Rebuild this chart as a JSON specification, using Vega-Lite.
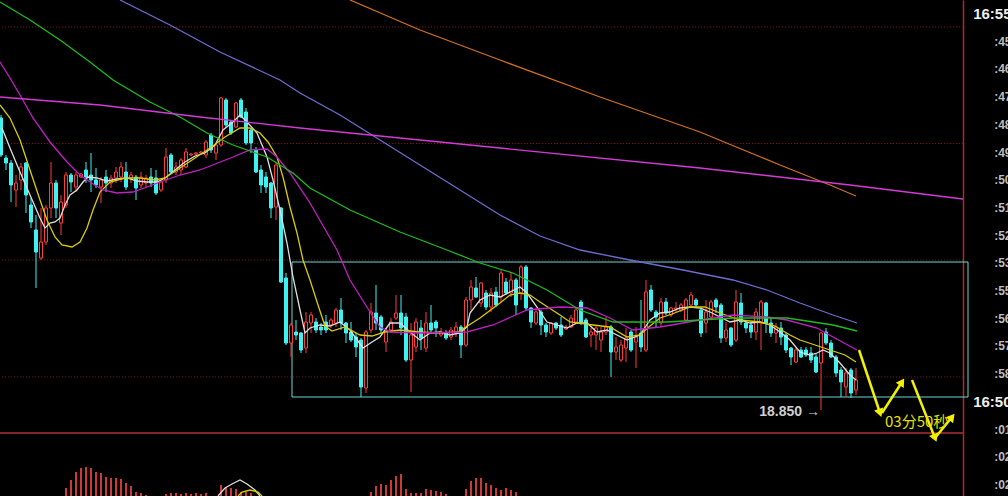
{
"$schema":"https://vega.github.io/schema/vega-lite/v6.json",
"width":963,"height":496,
"autosize":{"type":"none"},
"padding":{"left":0,"top":0,"right":45,"bottom":0},
"background":"#000000",
"config":{"view":{"stroke":null}},
"resolve":{"axis":{"y":"independent","x":"independent"}},
"datasets":{
"dots":[{"p":19.616},{"p":19.383},{"p":19.150},{"p":18.916}],
"solid":[{"p":18.804}],
"box":[{"t1":58.2,"t2":193.4,"p1":19.146,"p2":18.876}],
"macd":[{"t":13,"p":18.694},{"t":14,"p":18.710},{"t":15,"p":18.726},{"t":16,"p":18.734},{"t":17,"p":18.736},{"t":18,"p":18.734},{"t":19,"p":18.726},{"t":20,"p":18.724},{"t":21,"p":18.716},{"t":22,"p":18.714},{"t":23,"p":18.714},{"t":24,"p":18.712},{"t":25,"p":18.704},{"t":26,"p":18.698},{"t":27,"p":18.686},{"t":28,"p":18.684},{"t":29,"p":18.680},
{"t":33,"p":18.682},{"t":34,"p":18.684},{"t":35,"p":18.684},{"t":36,"p":18.682},{"t":37,"p":18.684},{"t":38,"p":18.682},{"t":39,"p":18.684},{"t":40,"p":18.682},{"t":41,"p":18.684},
{"t":44,"p":18.700},{"t":45,"p":18.696},{"t":46,"p":18.694},{"t":47,"p":18.692},{"t":48,"p":18.686},{"t":49,"p":18.686},{"t":50,"p":18.684},
{"t":74,"p":18.686},{"t":75,"p":18.698},{"t":76,"p":18.702},{"t":77,"p":18.700},{"t":78,"p":18.710},{"t":79,"p":18.718},{"t":80,"p":18.722},{"t":81,"p":18.692},{"t":82,"p":18.684},{"t":83,"p":18.684},{"t":84,"p":18.684},{"t":85,"p":18.692},{"t":86,"p":18.690},{"t":87,"p":18.688},{"t":88,"p":18.686},{"t":89,"p":18.682},{"t":93,"p":18.692},{"t":94,"p":18.708},{"t":95,"p":18.714},{"t":96,"p":18.714},{"t":97,"p":18.704},{"t":98,"p":18.700},{"t":99,"p":18.694},{"t":100,"p":18.690},{"t":101,"p":18.694},{"t":102,"p":18.690},{"t":103,"p":18.686}],
"candles":[
{"t":0,"o":19.434,"h":19.440,"l":19.356,"c":19.360},
{"t":1,"o":19.354,"h":19.360,"l":19.330,"c":19.344},
{"t":2,"o":19.344,"h":19.350,"l":19.266,"c":19.300},
{"t":3,"o":19.290,"h":19.320,"l":19.256,"c":19.304},
{"t":4,"o":19.310,"h":19.344,"l":19.290,"c":19.336},
{"t":5,"o":19.344,"h":19.346,"l":19.244,"c":19.280},
{"t":6,"o":19.260,"h":19.274,"l":19.214,"c":19.226},
{"t":7,"o":19.210,"h":19.240,"l":19.094,"c":19.166},
{"t":8,"o":19.154,"h":19.254,"l":19.150,"c":19.186},
{"t":9,"o":19.186,"h":19.260,"l":19.180,"c":19.254},
{"t":10,"o":19.254,"h":19.346,"l":19.234,"c":19.304},
{"t":11,"o":19.304,"h":19.310,"l":19.234,"c":19.254},
{"t":12,"o":19.224,"h":19.280,"l":19.200,"c":19.266},
{"t":13,"o":19.260,"h":19.326,"l":19.254,"c":19.320},
{"t":14,"o":19.320,"h":19.324,"l":19.286,"c":19.306},
{"t":15,"o":19.296,"h":19.326,"l":19.286,"c":19.320},
{"t":16,"o":19.316,"h":19.324,"l":19.314,"c":19.322},
{"t":17,"o":19.330,"h":19.346,"l":19.304,"c":19.316},
{"t":18,"o":19.320,"h":19.364,"l":19.286,"c":19.310},
{"t":19,"o":19.310,"h":19.334,"l":19.294,"c":19.300},
{"t":20,"o":19.296,"h":19.316,"l":19.264,"c":19.310},
{"t":21,"o":19.316,"h":19.330,"l":19.286,"c":19.304},
{"t":22,"o":19.304,"h":19.320,"l":19.294,"c":19.314},
{"t":23,"o":19.314,"h":19.336,"l":19.304,"c":19.326},
{"t":24,"o":19.316,"h":19.346,"l":19.306,"c":19.336},
{"t":25,"o":19.326,"h":19.346,"l":19.290,"c":19.296},
{"t":26,"o":19.314,"h":19.326,"l":19.304,"c":19.320},
{"t":27,"o":19.316,"h":19.320,"l":19.270,"c":19.294},
{"t":28,"o":19.300,"h":19.326,"l":19.294,"c":19.316},
{"t":29,"o":19.304,"h":19.320,"l":19.294,"c":19.314},
{"t":30,"o":19.316,"h":19.334,"l":19.296,"c":19.304},
{"t":31,"o":19.314,"h":19.330,"l":19.280,"c":19.284},
{"t":32,"o":19.290,"h":19.310,"l":19.286,"c":19.306},
{"t":33,"o":19.310,"h":19.374,"l":19.304,"c":19.356},
{"t":34,"o":19.360,"h":19.364,"l":19.324,"c":19.326},
{"t":35,"o":19.326,"h":19.346,"l":19.320,"c":19.336},
{"t":36,"o":19.330,"h":19.354,"l":19.320,"c":19.350},
{"t":37,"o":19.336,"h":19.374,"l":19.334,"c":19.366},
{"t":38,"o":19.360,"h":19.364,"l":19.358,"c":19.362},
{"t":39,"o":19.362,"h":19.366,"l":19.360,"c":19.364},
{"t":40,"o":19.364,"h":19.368,"l":19.362,"c":19.366},
{"t":41,"o":19.360,"h":19.390,"l":19.354,"c":19.386},
{"t":42,"o":19.400,"h":19.404,"l":19.364,"c":19.370},
{"t":43,"o":19.364,"h":19.384,"l":19.350,"c":19.380},
{"t":44,"o":19.380,"h":19.476,"l":19.376,"c":19.474},
{"t":45,"o":19.470,"h":19.474,"l":19.416,"c":19.420},
{"t":46,"o":19.426,"h":19.430,"l":19.400,"c":19.404},
{"t":47,"o":19.416,"h":19.466,"l":19.414,"c":19.464},
{"t":48,"o":19.470,"h":19.474,"l":19.434,"c":19.436},
{"t":49,"o":19.446,"h":19.454,"l":19.380,"c":19.384},
{"t":50,"o":19.410,"h":19.414,"l":19.364,"c":19.384},
{"t":51,"o":19.370,"h":19.376,"l":19.324,"c":19.326},
{"t":52,"o":19.330,"h":19.340,"l":19.284,"c":19.300},
{"t":53,"o":19.316,"h":19.326,"l":19.284,"c":19.296},
{"t":54,"o":19.304,"h":19.306,"l":19.234,"c":19.254},
{"t":55,"o":19.256,"h":19.346,"l":19.230,"c":19.340},
{"t":56,"o":19.254,"h":19.256,"l":19.104,"c":19.106},
{"t":57,"o":19.114,"h":19.124,"l":18.980,"c":18.984},
{"t":58,"o":18.984,"h":19.024,"l":18.956,"c":19.020},
{"t":59,"o":19.006,"h":19.030,"l":18.990,"c":19.000},
{"t":60,"o":19.004,"h":19.006,"l":18.964,"c":18.970},
{"t":61,"o":18.974,"h":19.046,"l":18.964,"c":19.026},
{"t":62,"o":19.024,"h":19.046,"l":19.004,"c":19.040},
{"t":63,"o":19.026,"h":19.034,"l":19.004,"c":19.010},
{"t":64,"o":19.016,"h":19.024,"l":19.000,"c":19.010},
{"t":65,"o":19.026,"h":19.040,"l":19.004,"c":19.010},
{"t":66,"o":19.020,"h":19.034,"l":19.014,"c":19.030},
{"t":67,"o":19.024,"h":19.054,"l":19.016,"c":19.050},
{"t":68,"o":19.050,"h":19.074,"l":19.010,"c":19.024},
{"t":69,"o":19.024,"h":19.026,"l":18.984,"c":19.004},
{"t":70,"o":19.006,"h":19.026,"l":18.986,"c":18.990},
{"t":71,"o":18.996,"h":19.004,"l":18.956,"c":18.976},
{"t":72,"o":18.990,"h":18.994,"l":18.876,"c":18.896},
{"t":73,"o":18.894,"h":19.010,"l":18.884,"c":19.006},
{"t":74,"o":19.010,"h":19.064,"l":19.004,"c":19.046},
{"t":75,"o":19.044,"h":19.100,"l":19.010,"c":19.024},
{"t":76,"o":19.036,"h":19.040,"l":19.004,"c":19.010},
{"t":77,"o":18.986,"h":19.014,"l":18.966,"c":19.010},
{"t":78,"o":19.010,"h":19.034,"l":19.004,"c":19.026},
{"t":79,"o":19.034,"h":19.080,"l":19.030,"c":19.044},
{"t":80,"o":19.044,"h":19.080,"l":19.000,"c":19.014},
{"t":81,"o":19.036,"h":19.044,"l":18.946,"c":18.950},
{"t":82,"o":18.950,"h":19.024,"l":18.886,"c":19.000},
{"t":83,"o":18.976,"h":19.034,"l":18.966,"c":19.026},
{"t":84,"o":19.014,"h":19.030,"l":18.970,"c":18.994},
{"t":85,"o":18.974,"h":19.046,"l":18.966,"c":19.024},
{"t":86,"o":19.024,"h":19.060,"l":19.006,"c":19.010},
{"t":87,"o":19.026,"h":19.030,"l":18.996,"c":19.014},
{"t":88,"o":19.000,"h":19.014,"l":18.996,"c":19.006},
{"t":89,"o":19.004,"h":19.010,"l":18.990,"c":18.994},
{"t":90,"o":18.996,"h":19.016,"l":18.990,"c":19.010},
{"t":91,"o":19.004,"h":19.026,"l":18.996,"c":19.016},
{"t":92,"o":19.016,"h":19.020,"l":18.954,"c":18.980},
{"t":93,"o":18.980,"h":19.076,"l":18.976,"c":19.070},
{"t":94,"o":19.070,"h":19.110,"l":19.050,"c":19.096},
{"t":95,"o":19.094,"h":19.116,"l":19.074,"c":19.076},
{"t":96,"o":19.064,"h":19.106,"l":19.056,"c":19.104},
{"t":97,"o":19.084,"h":19.090,"l":19.050,"c":19.056},
{"t":98,"o":19.056,"h":19.094,"l":19.046,"c":19.084},
{"t":99,"o":19.086,"h":19.096,"l":19.056,"c":19.060},
{"t":100,"o":19.076,"h":19.130,"l":19.066,"c":19.124},
{"t":101,"o":19.106,"h":19.114,"l":19.080,"c":19.084},
{"t":102,"o":19.084,"h":19.126,"l":19.076,"c":19.110},
{"t":103,"o":19.110,"h":19.114,"l":19.040,"c":19.060},
{"t":104,"o":19.084,"h":19.140,"l":19.070,"c":19.136},
{"t":105,"o":19.136,"h":19.140,"l":19.050,"c":19.054},
{"t":106,"o":19.054,"h":19.056,"l":19.014,"c":19.026},
{"t":107,"o":19.024,"h":19.054,"l":19.020,"c":19.046},
{"t":108,"o":19.046,"h":19.050,"l":19.000,"c":19.020},
{"t":109,"o":19.020,"h":19.024,"l":18.996,"c":19.006},
{"t":110,"o":19.004,"h":19.026,"l":19.000,"c":19.024},
{"t":111,"o":19.024,"h":19.026,"l":19.010,"c":19.014},
{"t":112,"o":19.020,"h":19.036,"l":18.996,"c":19.000},
{"t":113,"o":19.012,"h":19.020,"l":19.010,"c":19.016},
{"t":114,"o":19.016,"h":19.040,"l":19.014,"c":19.034},
{"t":115,"o":19.026,"h":19.056,"l":19.024,"c":19.050},
{"t":116,"o":19.066,"h":19.070,"l":19.020,"c":19.026},
{"t":117,"o":19.030,"h":19.034,"l":18.994,"c":18.996},
{"t":118,"o":19.000,"h":19.014,"l":18.976,"c":19.006},
{"t":119,"o":19.000,"h":19.020,"l":18.970,"c":19.014},
{"t":120,"o":18.990,"h":19.016,"l":18.966,"c":19.006},
{"t":121,"o":19.006,"h":19.036,"l":19.000,"c":19.016},
{"t":122,"o":19.016,"h":19.020,"l":18.916,"c":18.966},
{"t":123,"o":18.966,"h":18.996,"l":18.950,"c":18.976},
{"t":124,"o":18.950,"h":18.990,"l":18.946,"c":18.980},
{"t":125,"o":18.974,"h":19.014,"l":18.946,"c":18.994},
{"t":126,"o":19.006,"h":19.010,"l":18.966,"c":18.970},
{"t":127,"o":18.986,"h":19.016,"l":18.934,"c":18.996},
{"t":128,"o":19.004,"h":19.070,"l":18.966,"c":18.976},
{"t":129,"o":18.970,"h":19.110,"l":18.966,"c":19.086},
{"t":130,"o":19.090,"h":19.100,"l":19.046,"c":19.050},
{"t":131,"o":19.046,"h":19.050,"l":19.016,"c":19.036},
{"t":132,"o":19.024,"h":19.074,"l":19.016,"c":19.066},
{"t":133,"o":19.066,"h":19.074,"l":19.040,"c":19.044},
{"t":134,"o":19.040,"h":19.056,"l":19.036,"c":19.054},
{"t":135,"o":19.052,"h":19.066,"l":19.046,"c":19.054},
{"t":136,"o":19.050,"h":19.064,"l":19.046,"c":19.060},
{"t":137,"o":19.030,"h":19.074,"l":19.026,"c":19.070},
{"t":138,"o":19.060,"h":19.086,"l":19.054,"c":19.080},
{"t":139,"o":19.070,"h":19.074,"l":19.054,"c":19.060},
{"t":140,"o":19.050,"h":19.054,"l":18.996,"c":19.004},
{"t":141,"o":19.024,"h":19.070,"l":19.004,"c":19.046},
{"t":142,"o":19.036,"h":19.070,"l":19.034,"c":19.066},
{"t":143,"o":19.070,"h":19.074,"l":19.044,"c":19.056},
{"t":144,"o":19.060,"h":19.064,"l":18.984,"c":18.994},
{"t":145,"o":18.994,"h":19.026,"l":18.986,"c":19.010},
{"t":146,"o":19.014,"h":19.016,"l":18.976,"c":18.980},
{"t":147,"o":18.990,"h":19.090,"l":18.986,"c":19.066},
{"t":148,"o":19.064,"h":19.084,"l":19.020,"c":19.026},
{"t":149,"o":19.024,"h":19.030,"l":19.004,"c":19.014},
{"t":150,"o":19.020,"h":19.026,"l":18.994,"c":19.006},
{"t":151,"o":19.006,"h":19.054,"l":18.990,"c":19.046},
{"t":152,"o":19.024,"h":19.070,"l":18.970,"c":19.066},
{"t":153,"o":19.064,"h":19.066,"l":19.004,"c":19.024},
{"t":154,"o":19.024,"h":19.034,"l":18.996,"c":19.004},
{"t":155,"o":19.004,"h":19.024,"l":18.984,"c":19.016},
{"t":156,"o":19.014,"h":19.026,"l":18.980,"c":18.996},
{"t":157,"o":19.000,"h":19.004,"l":18.964,"c":18.970},
{"t":158,"o":18.974,"h":18.976,"l":18.940,"c":18.956},
{"t":159,"o":18.946,"h":18.974,"l":18.944,"c":18.970},
{"t":160,"o":18.970,"h":18.976,"l":18.954,"c":18.956},
{"t":161,"o":18.970,"h":18.976,"l":18.956,"c":18.960},
{"t":162,"o":18.964,"h":18.976,"l":18.944,"c":18.950},
{"t":163,"o":18.956,"h":18.964,"l":18.924,"c":18.926},
{"t":164,"o":18.944,"h":19.006,"l":18.850,"c":19.004},
{"t":165,"o":19.006,"h":19.014,"l":18.980,"c":18.984},
{"t":166,"o":18.984,"h":18.990,"l":18.954,"c":18.956},
{"t":167,"o":18.956,"h":18.960,"l":18.916,"c":18.924},
{"t":168,"o":18.930,"h":18.936,"l":18.876,"c":18.906},
{"t":169,"o":18.896,"h":18.934,"l":18.876,"c":18.924},
{"t":170,"o":18.930,"h":18.934,"l":18.874,"c":18.884},
{"t":171,"o":18.890,"h":18.934,"l":18.880,"c":18.910}
],
"ma":[
{"s":"w","t":0.2,"p":19.414},{"s":"w","t":1.8,"p":19.374},{"s":"w","t":3.8,"p":19.326},{"s":"w","t":5.8,"p":19.280},{"s":"w","t":7.8,"p":19.234},{"s":"w","t":8.8,"p":19.214},{"s":"w","t":9.8,"p":19.224},{"s":"w","t":10.8,"p":19.226},{"s":"w","t":11.8,"p":19.234},{"s":"w","t":12.8,"p":19.260},{"s":"w","t":13.8,"p":19.280},{"s":"w","t":15.2,"p":19.290},{"s":"w","t":16.4,"p":19.306},{"s":"w","t":17.4,"p":19.316},{"s":"w","t":19.2,"p":19.314},{"s":"w","t":21.2,"p":19.308},{"s":"w","t":23.2,"p":19.312},{"s":"w","t":25.2,"p":19.314},{"s":"w","t":27.2,"p":19.308},{"s":"w","t":29.2,"p":19.306},{"s":"w","t":31.2,"p":19.306},{"s":"w","t":32.8,"p":19.314},{"s":"w","t":34.8,"p":19.330},{"s":"w","t":36.8,"p":19.346},{"s":"w","t":38.8,"p":19.358},{"s":"w","t":40.8,"p":19.364},{"s":"w","t":42.8,"p":19.380},{"s":"w","t":44.4,"p":19.410},{"s":"w","t":46.4,"p":19.426},{"s":"w","t":47.8,"p":19.440},{"s":"w","t":49.2,"p":19.426},{"s":"w","t":51.2,"p":19.404},{"s":"w","t":53.2,"p":19.356},{"s":"w","t":54.4,"p":19.310},{"s":"w","t":55.8,"p":19.250},{"s":"w","t":57.2,"p":19.184},{"s":"w","t":58.4,"p":19.116},{"s":"w","t":59.8,"p":19.050},{"s":"w","t":60.8,"p":19.004},{"s":"w","t":61.8,"p":19.014},{"s":"w","t":63.8,"p":19.020},{"s":"w","t":65.8,"p":19.018},{"s":"w","t":67.8,"p":19.026},{"s":"w","t":69.8,"p":19.010},{"s":"w","t":72.4,"p":18.974},{"s":"w","t":74.2,"p":18.986},{"s":"w","t":75.8,"p":18.996},{"s":"w","t":77.8,"p":19.024},{"s":"w","t":79.8,"p":19.024},{"s":"w","t":81.8,"p":19.006},{"s":"w","t":83.8,"p":18.990},{"s":"w","t":85.8,"p":19.004},{"s":"w","t":87.8,"p":19.006},{"s":"w","t":89.8,"p":19.000},{"s":"w","t":91.8,"p":19.004},{"s":"w","t":93.2,"p":19.016},{"s":"w","t":93.8,"p":19.044},{"s":"w","t":95.8,"p":19.070},{"s":"w","t":97.8,"p":19.080},{"s":"w","t":99.8,"p":19.076},{"s":"w","t":101.8,"p":19.086},{"s":"w","t":103.8,"p":19.096},{"s":"w","t":105.2,"p":19.084},{"s":"w","t":107.2,"p":19.056},{"s":"w","t":109.2,"p":19.026},{"s":"w","t":111.2,"p":19.020},{"s":"w","t":113.2,"p":19.014},{"s":"w","t":115.2,"p":19.024},{"s":"w","t":117.2,"p":19.024},{"s":"w","t":119.2,"p":19.006},{"s":"w","t":121.2,"p":19.010},{"s":"w","t":123.2,"p":19.000},{"s":"w","t":125.2,"p":18.990},{"s":"w","t":127.8,"p":19.000},{"s":"w","t":129.8,"p":19.030},{"s":"w","t":131.8,"p":19.044},{"s":"w","t":133.8,"p":19.046},{"s":"w","t":135.8,"p":19.054},{"s":"w","t":137.8,"p":19.056},{"s":"w","t":139.8,"p":19.054},{"s":"w","t":141.8,"p":19.046},{"s":"w","t":143.8,"p":19.036},{"s":"w","t":145.8,"p":19.026},{"s":"w","t":147.8,"p":19.030},{"s":"w","t":149.8,"p":19.024},{"s":"w","t":151.8,"p":19.026},{"s":"w","t":153.8,"p":19.020},{"s":"w","t":155.8,"p":19.006},{"s":"w","t":157.8,"p":18.990},{"s":"w","t":159.8,"p":18.966},{"s":"w","t":161.8,"p":18.960},{"s":"w","t":163.2,"p":18.964},{"s":"w","t":164.4,"p":18.970},{"s":"w","t":165.8,"p":18.964},{"s":"w","t":167.8,"p":18.944},{"s":"w","t":169.8,"p":18.920},{"s":"w","t":171.0,"p":18.910},
{"s":"y","t":-0.2,"p":19.460},{"s":"y","t":1.8,"p":19.434},{"s":"y","t":3.8,"p":19.390},{"s":"y","t":5.8,"p":19.330},{"s":"y","t":7.8,"p":19.270},{"s":"y","t":9.2,"p":19.230},{"s":"y","t":10.8,"p":19.196},{"s":"y","t":12.2,"p":19.180},{"s":"y","t":14.2,"p":19.176},{"s":"y","t":15.8,"p":19.186},{"s":"y","t":17.2,"p":19.214},{"s":"y","t":18.4,"p":19.250},{"s":"y","t":19.8,"p":19.286},{"s":"y","t":21.8,"p":19.306},{"s":"y","t":24.8,"p":19.314},{"s":"y","t":27.8,"p":19.314},{"s":"y","t":30.8,"p":19.310},{"s":"y","t":32.8,"p":19.314},{"s":"y","t":35.8,"p":19.334},{"s":"y","t":38.8,"p":19.354},{"s":"y","t":41.8,"p":19.374},{"s":"y","t":44.8,"p":19.396},{"s":"y","t":47.8,"p":19.414},{"s":"y","t":49.8,"p":19.414},{"s":"y","t":51.8,"p":19.404},{"s":"y","t":53.4,"p":19.386},{"s":"y","t":55.2,"p":19.356},{"s":"y","t":56.4,"p":19.316},{"s":"y","t":57.8,"p":19.256},{"s":"y","t":59.2,"p":19.204},{"s":"y","t":60.4,"p":19.150},{"s":"y","t":61.8,"p":19.110},{"s":"y","t":63.4,"p":19.060},{"s":"y","t":64.8,"p":19.018},{"s":"y","t":66.2,"p":19.008},{"s":"y","t":68.8,"p":19.016},{"s":"y","t":71.8,"p":19.000},{"s":"y","t":74.2,"p":18.998},{"s":"y","t":76.8,"p":19.006},{"s":"y","t":79.8,"p":19.010},{"s":"y","t":83.8,"p":19.006},{"s":"y","t":87.8,"p":19.004},{"s":"y","t":91.4,"p":19.006},{"s":"y","t":95.8,"p":19.034},{"s":"y","t":99.8,"p":19.064},{"s":"y","t":101.8,"p":19.080},{"s":"y","t":103.8,"p":19.084},{"s":"y","t":105.8,"p":19.080},{"s":"y","t":107.8,"p":19.066},{"s":"y","t":111.8,"p":19.040},{"s":"y","t":113.8,"p":19.026},{"s":"y","t":118.4,"p":19.020},{"s":"y","t":121.8,"p":19.016},{"s":"y","t":125.2,"p":18.996},{"s":"y","t":127.8,"p":19.000},{"s":"y","t":129.8,"p":19.018},{"s":"y","t":131.8,"p":19.034},{"s":"y","t":134.2,"p":19.042},{"s":"y","t":137.8,"p":19.056},{"s":"y","t":140.8,"p":19.056},{"s":"y","t":143.8,"p":19.044},{"s":"y","t":147.8,"p":19.030},{"s":"y","t":151.8,"p":19.026},{"s":"y","t":154.8,"p":19.018},{"s":"y","t":157.8,"p":19.000},{"s":"y","t":159.8,"p":18.990},{"s":"y","t":162.8,"p":18.980},{"s":"y","t":165.8,"p":18.970},{"s":"y","t":168.8,"p":18.960},{"s":"y","t":171.0,"p":18.946},
{"s":"m","t":-0.2,"p":19.546},{"s":"m","t":1.8,"p":19.514},{"s":"m","t":3.8,"p":19.480},{"s":"m","t":6.4,"p":19.434},{"s":"m","t":9.8,"p":19.386},{"s":"m","t":13.2,"p":19.346},{"s":"m","t":15.8,"p":19.320},{"s":"m","t":17.8,"p":19.306},{"s":"m","t":20.4,"p":19.290},{"s":"m","t":23.2,"p":19.284},{"s":"m","t":26.4,"p":19.286},{"s":"m","t":29.2,"p":19.296},{"s":"m","t":31.8,"p":19.306},{"s":"m","t":35.8,"p":19.320},{"s":"m","t":39.8,"p":19.330},{"s":"m","t":46.4,"p":19.356},{"s":"m","t":49.8,"p":19.370},{"s":"m","t":53.2,"p":19.372},{"s":"m","t":55.2,"p":19.356},{"s":"m","t":57.8,"p":19.324},{"s":"m","t":61.8,"p":19.264},{"s":"m","t":67.2,"p":19.170},{"s":"m","t":69.8,"p":19.110},{"s":"m","t":73.8,"p":19.046},{"s":"m","t":75.8,"p":19.016},{"s":"m","t":77.8,"p":19.006},{"s":"m","t":83.8,"p":19.004},{"s":"m","t":93.2,"p":19.006},{"s":"m","t":98.4,"p":19.020},{"s":"m","t":105.2,"p":19.050},{"s":"m","t":111.8,"p":19.056},{"s":"m","t":117.2,"p":19.054},{"s":"m","t":121.8,"p":19.034},{"s":"m","t":126.4,"p":19.010},{"s":"m","t":131.8,"p":19.016},{"s":"m","t":139.8,"p":19.030},{"s":"m","t":146.4,"p":19.040},{"s":"m","t":153.2,"p":19.036},{"s":"m","t":157.2,"p":19.030},{"s":"m","t":163.2,"p":19.014},{"s":"m","t":166.4,"p":18.996},{"s":"m","t":171.2,"p":18.970},
{"s":"g","t":-0.2,"p":19.666},{"s":"g","t":5.8,"p":19.630},{"s":"g","t":11.8,"p":19.590},{"s":"g","t":17.8,"p":19.546},{"s":"g","t":22.4,"p":19.510},{"s":"g","t":29.8,"p":19.466},{"s":"g","t":35.8,"p":19.436},{"s":"g","t":41.2,"p":19.404},{"s":"g","t":46.4,"p":19.380},{"s":"g","t":53.2,"p":19.356},{"s":"g","t":58.4,"p":19.324},{"s":"g","t":61.8,"p":19.294},{"s":"g","t":69.8,"p":19.250},{"s":"g","t":79.8,"p":19.206},{"s":"g","t":89.2,"p":19.170},{"s":"g","t":95.8,"p":19.144},{"s":"g","t":102.4,"p":19.124},{"s":"g","t":109.2,"p":19.090},{"s":"g","t":115.8,"p":19.050},{"s":"g","t":122.4,"p":19.026},{"s":"g","t":133.2,"p":19.026},{"s":"g","t":146.4,"p":19.034},{"s":"g","t":157.2,"p":19.034},{"s":"g","t":166.4,"p":19.020},{"s":"g","t":171.2,"p":19.008},
{"s":"b","t":23.8,"p":19.670},{"s":"b","t":33.8,"p":19.620},{"s":"b","t":43.8,"p":19.566},{"s":"b","t":55.8,"p":19.510},{"s":"b","t":59.8,"p":19.484},{"s":"b","t":67.8,"p":19.440},{"s":"b","t":75.8,"p":19.390},{"s":"b","t":83.8,"p":19.340},{"s":"b","t":91.8,"p":19.290},{"s":"b","t":99.8,"p":19.240},{"s":"b","t":107.8,"p":19.198},{"s":"b","t":115.8,"p":19.170},{"s":"b","t":125.8,"p":19.150},{"s":"b","t":136.4,"p":19.130},{"s":"b","t":146.4,"p":19.110},{"s":"b","t":153.2,"p":19.090},{"s":"b","t":159.8,"p":19.064},{"s":"b","t":166.4,"p":19.040},{"s":"b","t":171.2,"p":19.024},
{"s":"o","t":69.8,"p":19.670},{"s":"o","t":83.8,"p":19.610},{"s":"o","t":99.8,"p":19.550},{"s":"o","t":119.8,"p":19.476},{"s":"o","t":139.8,"p":19.406},{"s":"o","t":155.8,"p":19.340},{"s":"o","t":165.8,"p":19.300},{"s":"o","t":171.0,"p":19.278},
{"s":"k","t":-0.2,"p":19.476},{"s":"k","t":19.8,"p":19.460},{"s":"k","t":39.8,"p":19.436},{"s":"k","t":59.8,"p":19.414},{"s":"k","t":99.8,"p":19.374},{"s":"k","t":139.8,"p":19.334},{"s":"k","t":169.8,"p":19.300},{"s":"k","t":192.4,"p":19.272},
{"s":"d","t":43.4,"p":18.678},{"s":"d","t":44.8,"p":18.694},{"s":"d","t":46.2,"p":18.702},{"s":"d","t":47.8,"p":18.710},{"s":"d","t":49.2,"p":18.702},{"s":"d","t":50.8,"p":18.690},{"s":"d","t":51.8,"p":18.678},
{"s":"e","t":47.4,"p":18.678},{"s":"e","t":48.2,"p":18.686},{"s":"e","t":49.8,"p":18.690},{"s":"e","t":51.4,"p":18.686},{"s":"e","t":52.2,"p":18.678}
],
"arrows":[{"t1":171.6,"p1":18.970,"t2":175.8,"p2":18.844},{"t1":176.2,"p1":18.844,"t2":180.2,"p2":18.906},{"t1":182.2,"p1":18.910,"t2":186.8,"p2":18.794},{"t1":186.8,"p1":18.794,"t2":190.2,"p2":18.836}],
"heads":[{"t":175.8,"p":18.844,"a":161.6},{"t":180.2,"p":18.906,"a":33},{"t":186.8,"p":18.794,"a":158.4},{"t":190.2,"p":18.836,"a":39}],
"lowlabel":[{"t":163.8,"p":18.850,"txt":"18.850 →"}],
"timer":[{"t":176.8,"p":18.826,"txt":"03分50秒"}]
},
"layer":[
{"data":{"name":"dots"},"mark":{"type":"rule","color":"#8a1010","strokeDash":[1,2],"strokeWidth":1},
 "encoding":{"y":{"field":"p","type":"quantitative","scale":{"domain":[18.678,19.67],"nice":false,"zero":false,"padding":0},
  "axis":{"orient":"right","title":null,"values":[19.643,19.5876,19.5322,19.4768,19.4214,19.366,19.3106,19.2552,19.1998,19.1444,19.089,19.0336,18.9782,18.9228,18.8674,18.812,18.7566,18.7012],
   "labelExpr":"['16:55',':45',':46',':47',':48',':49',':50',':51',':52',':53',':55',':56',':57',':58','16:50',':01',':02',':02'][round((19.643 - datum.value)/0.0554)]",
   "domain":true,"domainColor":"#b02828","domainWidth":1.5,"ticks":false,"tickSize":0,"grid":false,
   "labelAlign":"right","labelBaseline":"middle","labelPadding":48,"labelFont":"Liberation Sans","labelFontWeight":"bold",
   "labelFontSize":{"condition":{"test":"datum.value > 19.62 || (datum.value > 18.86 && datum.value < 18.875)","value":15},"value":12},
   "labelColor":{"condition":{"test":"datum.value > 19.62 || (datum.value > 18.86 && datum.value < 18.875)","value":"#eeeeee"},"value":"#bdbdbd"},
   "labelOverlap":false,"labelFlush":false,"labelBound":false}}}},
{"data":{"name":"solid"},"mark":{"type":"rule","color":"#b03030","strokeWidth":1.5},
 "encoding":{"y":{"field":"p","type":"quantitative","scale":{"domain":[18.678,19.67],"nice":false,"zero":false,"padding":0},"axis":null}}},
{"data":{"name":"macd"},"mark":{"type":"rule","color":"#cc3a3a","strokeWidth":2},
 "encoding":{"x":{"field":"t","type":"quantitative","scale":{"domain":[-0.2,192.4],"nice":false,"zero":false,"padding":0},"axis":null},
  "y":{"field":"p","type":"quantitative","scale":{"domain":[18.678,19.67],"nice":false,"zero":false,"padding":0},"axis":null},
  "y2":{"datum":18.678}}},
{"data":{"name":"box"},"mark":{"type":"rect","filled":false,"stroke":"#6cd6d6","strokeWidth":1},
 "encoding":{"x":{"field":"t1","type":"quantitative","scale":{"domain":[-0.2,192.4],"nice":false,"zero":false,"padding":0},"axis":null},"x2":{"field":"t2"},
  "y":{"field":"p1","type":"quantitative","scale":{"domain":[18.678,19.67],"nice":false,"zero":false,"padding":0},"axis":null},"y2":{"field":"p2"}}},
{"data":{"name":"candles"},"mark":{"type":"rule","strokeWidth":1},
 "encoding":{"x":{"field":"t","type":"quantitative","scale":{"domain":[-0.2,192.4],"nice":false,"zero":false,"padding":0},"axis":null},
  "y":{"field":"l","type":"quantitative","scale":{"domain":[18.678,19.67],"nice":false,"zero":false,"padding":0},"axis":null},"y2":{"field":"h"},
  "color":{"condition":{"test":"datum.c > datum.o","value":"#ff3c3c"},"value":"#3ef2f2"}}},
{"data":{"name":"candles"},"mark":{"type":"bar","width":3,"strokeWidth":1},
 "encoding":{"x":{"field":"t","type":"quantitative","scale":{"domain":[-0.2,192.4],"nice":false,"zero":false,"padding":0},"axis":null},
  "y":{"field":"o","type":"quantitative","scale":{"domain":[18.678,19.67],"nice":false,"zero":false,"padding":0},"axis":null},"y2":{"field":"c"},
  "fill":{"condition":{"test":"datum.c > datum.o","value":"#000000"},"value":"#3ef2f2"},
  "stroke":{"condition":{"test":"datum.c > datum.o","value":"#ff3c3c"},"value":"#3ef2f2"}}},
{"data":{"name":"ma"},"mark":{"type":"line","strokeWidth":1.3},
 "encoding":{"x":{"field":"t","type":"quantitative","scale":{"domain":[-0.2,192.4],"nice":false,"zero":false,"padding":0},"axis":null},
  "y":{"field":"p","type":"quantitative","scale":{"domain":[18.678,19.67],"nice":false,"zero":false,"padding":0},"axis":null},
  "color":{"field":"s","type":"nominal","legend":null,"scale":{"domain":["k","o","b","g","m","y","w","d","e"],"range":["#d63ad6","#d2701e","#6c6cd2","#1cbc1c","#c21ec6","#d8cc00","#dedede","#dedede","#d8cc00"]}}}},
{"data":{"name":"arrows"},"mark":{"type":"rule","color":"#f2f200","strokeWidth":2.5},
 "encoding":{"x":{"field":"t1","type":"quantitative","scale":{"domain":[-0.2,192.4],"nice":false,"zero":false,"padding":0},"axis":null},"x2":{"field":"t2"},
  "y":{"field":"p1","type":"quantitative","scale":{"domain":[18.678,19.67],"nice":false,"zero":false,"padding":0},"axis":null},"y2":{"field":"p2"}}},
{"data":{"name":"heads"},"mark":{"type":"point","shape":"triangle-up","filled":true,"color":"#f2f200","size":90,"opacity":1},
 "encoding":{"x":{"field":"t","type":"quantitative","scale":{"domain":[-0.2,192.4],"nice":false,"zero":false,"padding":0},"axis":null},
  "y":{"field":"p","type":"quantitative","scale":{"domain":[18.678,19.67],"nice":false,"zero":false,"padding":0},"axis":null},
  "angle":{"field":"a","type":"quantitative","scale":null}}},
{"data":{"name":"lowlabel"},"mark":{"type":"text","align":"right","baseline":"middle","dy":2,"font":"Liberation Sans","fontWeight":"bold","fontSize":14,"color":"#cfcfcf"},
 "encoding":{"x":{"field":"t","type":"quantitative","scale":{"domain":[-0.2,192.4],"nice":false,"zero":false,"padding":0},"axis":null},
  "y":{"field":"p","type":"quantitative","scale":{"domain":[18.678,19.67],"nice":false,"zero":false,"padding":0},"axis":null},"text":{"field":"txt"}}},
{"data":{"name":"timer"},"mark":{"type":"text","align":"left","baseline":"middle","font":"Noto Sans CJK SC","fontSize":15,"color":"#e2e200"},
 "encoding":{"x":{"field":"t","type":"quantitative","scale":{"domain":[-0.2,192.4],"nice":false,"zero":false,"padding":0},"axis":null},
  "y":{"field":"p","type":"quantitative","scale":{"domain":[18.678,19.67],"nice":false,"zero":false,"padding":0},"axis":null},"text":{"field":"txt"}}}
]
}
